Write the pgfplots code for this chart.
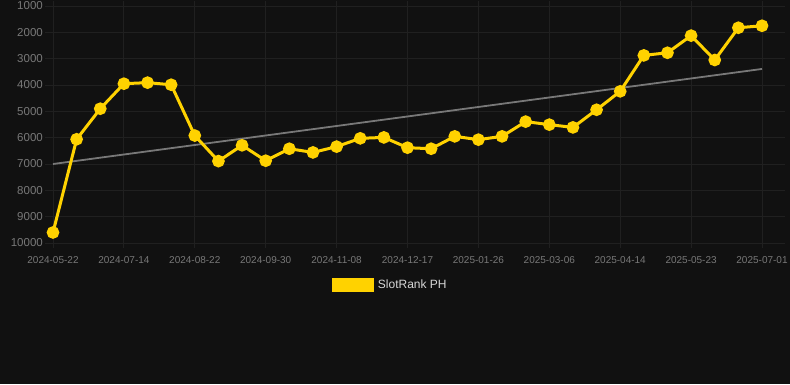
\documentclass[border=0pt]{standalone}
\usepackage{pgfplots}
\pgfplotsset{compat=1.18}
\usepackage{fontspec}
\setmainfont{Liberation Sans}
\definecolor{bg}{RGB}{17,17,17}
\definecolor{gridc}{RGB}{32,32,32}
\definecolor{gold}{RGB}{255,210,0}
\definecolor{tickc}{RGB}{120,120,120}
\definecolor{trendc}{RGB}{120,120,120}
\definecolor{legc}{RGB}{215,215,215}
\begin{document}
\begin{tikzpicture}[x=1pt,y=1pt]
\fill[bg] (0,0) rectangle (790,384);
\begin{axis}[
  at={(45pt,141pt)}, anchor=south west,
  scale only axis, width=740pt, height=237pt,
  xmin=-0.3385, xmax=30.973,
  ymin=1000, ymax=10000, y dir=reverse,
  axis line style={draw=none},
  clip=false,
  xtick={0,3,...,30},
  xticklabels={2024-05-22,2024-07-14,2024-08-22,2024-09-30,2024-11-08,2024-12-17,2025-01-26,2025-03-06,2025-04-14,2025-05-23,2025-07-01},
  ytick={1000,2000,...,10000},
  yticklabels={1000,2000,3000,4000,5000,6000,7000,8000,9000,10000},
  scaled y ticks=false,
  grid=major,
  major grid style={draw=gridc, line width=1pt},
  tick align=outside,
  major tick length=5pt,
  xtick style={draw=gridc, line width=1pt},
  ytick style={draw=none},
  x tick label style={font=\fontsize{10}{12}\selectfont, text=tickc, inner sep=0pt, yshift=-8pt},
  y tick label style={font=\fontsize{11.5}{13}\selectfont, text=tickc, inner sep=0pt, xshift=3pt},
  legend style={at={(axis description cs:0.3878,-0.177)}, anchor=west, draw=none, fill=none,
    text=legc, font=\fontsize{12}{14}\selectfont, inner sep=0pt, outer sep=0pt},
  legend cell align=left,
]
\addplot[trendc, line width=1.8pt, forget plot] coordinates {(0,7000) (30,3390)};
\addplot[gold, line width=3pt, mark=*, mark size=4.8pt, mark options={solid, fill=gold, draw=none},
  legend image code/.code={\fill[gold] (0pt,-5.5pt) rectangle (39pt,5.5pt);}]
 coordinates {
 (0,9600) (1,6060) (2,4900) (3,3950) (4,3910) (5,3990) (6,5920) (7,6890) (8,6290) (9,6875)
 (10,6420) (11,6560) (12,6340) (13,6025) (14,5990) (15,6380) (16,6420) (17,5950) (18,6075) (19,5950)
 (20,5390) (21,5505) (22,5610) (23,4940) (24,4240) (25,2875) (26,2775) (27,2125) (28,3050) (29,1825) (30,1750)
 };
\addlegendentry{\hspace{2pt}SlotRank PH}
\end{axis}
\end{tikzpicture}
\end{document}
